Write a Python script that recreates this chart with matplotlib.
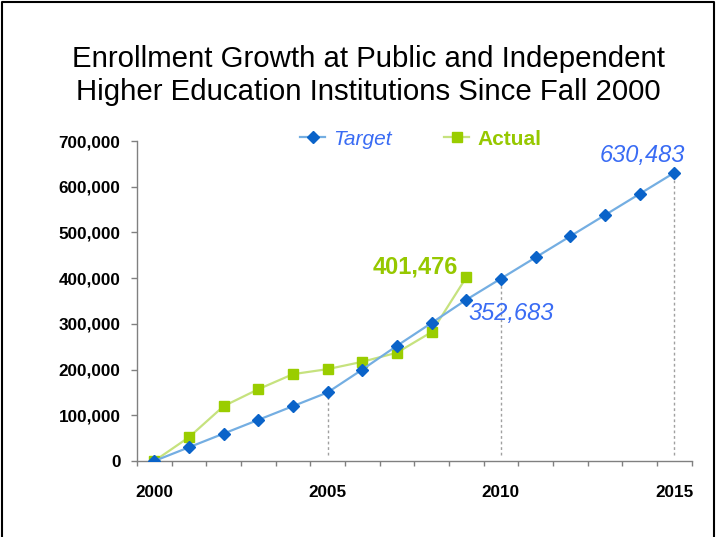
import matplotlib.pyplot as plt
import numpy as np
from matplotlib.lines import Line2D
from matplotlib.ticker import FuncFormatter

plt.rcParams['font.family'] = ['Liberation Sans', 'DejaVu Sans']

years = [2000, 2001, 2002, 2003, 2004, 2005, 2006, 2007,
         2008, 2009, 2010, 2011, 2012, 2013, 2014, 2015]
target = [0, 30000, 60000, 90000, 120000, 150000, 200000, 252000,
          302000, 352683, 398983, 445283, 491583, 537883, 584183, 630483]
actual = [0, 52000, 120000, 157000, 190000, 201000, 217000, 237000,
          282000, 401476]
year_labels = ['2000', '2005', '2010', '2015']
drop_years = [2005, 2010, 2015]

blue_line = '#74aee2'
blue_mark = '#0a63c9'
blue_text = '#3a6cf4'
green_line = '#c6e27e'
green_mark = '#9acd00'
green_text = '#96c800'

fig = plt.figure(figsize=(7.16, 5.37), dpi=100)
ax = fig.add_axes([0.1913, 0.1415, 0.7745, 0.5959])

x_t = np.arange(len(target))
x_a = np.arange(len(actual))

ax.plot(x_t, target, color=blue_line, lw=1.6, marker='D', ms=6,
        mfc=blue_mark, mec=blue_mark, label='Target', zorder=3)
ax.plot(x_a, actual, color=green_line, lw=1.6, marker='s', ms=7,
        mfc=green_mark, mec=green_mark, label='Actual', zorder=2)

# dashed drop lines under selected target points
for yr in drop_years:
    i = years.index(yr)
    ax.plot([i, i], [13000, target[i]], color='#a0a0a0', lw=1,
            ls=(0, (2, 2)), zorder=1)

ax.set_xlim(-0.5, len(years) - 0.5)
ax.set_ylim(0, 700000)
ax.set_yticks(np.arange(0, 700001, 100000))
ax.yaxis.set_major_formatter(FuncFormatter(lambda v, p: f'{int(v):,}'))

ax.set_xticks([years.index(int(s)) for s in year_labels])
ax.set_xticklabels(year_labels)
ax.set_xticks(np.arange(-0.5, len(years), 1), minor=True)
ax.tick_params(axis='x', which='major', length=0, pad=17)
ax.tick_params(axis='x', which='minor', length=3.6, color='#808080', width=1)
ax.tick_params(axis='y', length=4.3, color='#808080', width=1, pad=7.5)
for lab in ax.get_xticklabels() + ax.get_yticklabels():
    lab.set_fontweight('bold')
    lab.set_fontsize(12.3)

for s in ['top', 'right']:
    ax.spines[s].set_visible(False)
for s in ['left', 'bottom']:
    ax.spines[s].set_color('#808080')
    ax.spines[s].set_linewidth(1)

# value labels
ax.annotate(f'{target[-1]:,}', (x_t[-1], target[-1]), xytext=(8, 12.7),
            textcoords='offset points', ha='right', va='center',
            color=blue_text, fontsize=17, style='italic')
ax.annotate(f'{target[9]:,}', (x_t[9], target[9]), xytext=(1.8, -10),
            textcoords='offset points', ha='left', va='center',
            color=blue_text, fontsize=17, style='italic')
ax.annotate(f'{actual[-1]:,}', (x_a[-1], actual[-1]), xytext=(-5.8, 7.2),
            textcoords='offset points', ha='right', va='center',
            color=green_text, fontsize=17, fontweight='bold')

leg = ax.legend(loc='center', bbox_to_anchor=(0.512, 1.006), ncol=2,
                frameon=False, fontsize=15, handlelength=1.2,
                handletextpad=0.4, columnspacing=2.5, borderaxespad=0)
leg.get_texts()[0].set_color(blue_text)
leg.get_texts()[0].set_style('italic')
leg.get_texts()[1].set_color(green_text)
leg.get_texts()[1].set_fontweight('bold')

fig.text(0.514, 0.86,
         'Enrollment Growth at Public and Independent\n'
         'Higher Education Institutions Since Fall 2000',
         ha='center', va='center', fontsize=21.2, linespacing=1.22)

# frame on left, top and right edges
fig.add_artist(Line2D([0.003, 0.003, 0.997, 0.997], [0, 0.996, 0.996, 0],
                      transform=fig.transFigure, color='black', lw=1.5))

fig.savefig('out.png', dpi=100)
